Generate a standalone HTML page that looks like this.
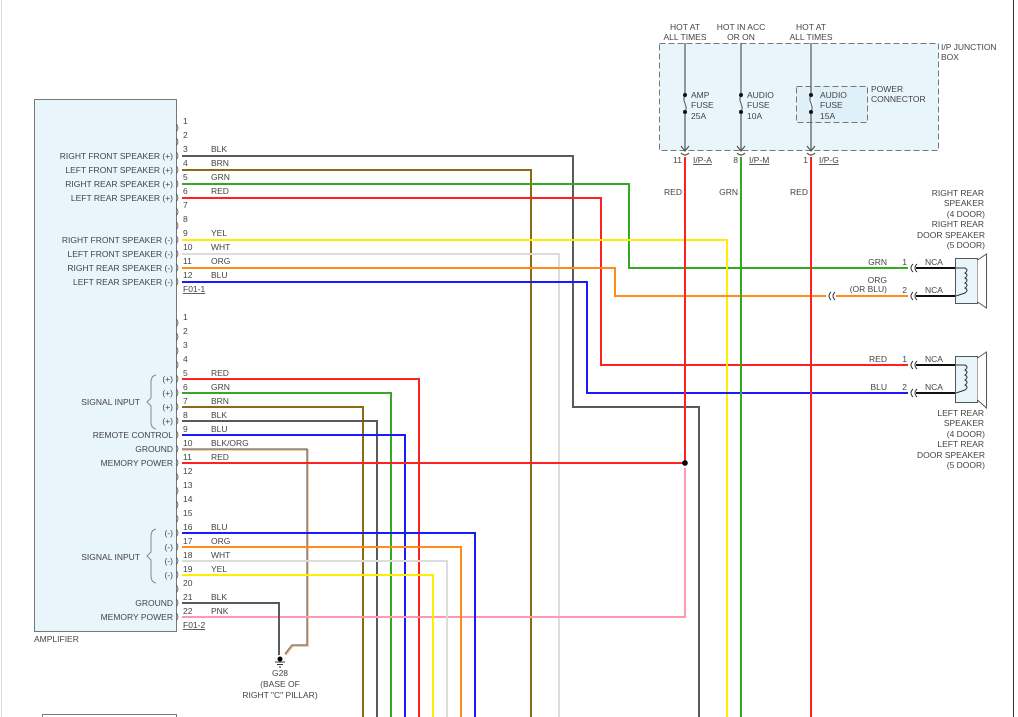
<!DOCTYPE html>
<html><head><meta charset="utf-8"><style>
body{margin:0;background:#fff}
svg{display:block}
text{font-family:"Liberation Sans",sans-serif;font-size:8.5px;fill:#444}
</style></head><body>
<svg width="1018" height="717" viewBox="0 0 1018 717" xmlns="http://www.w3.org/2000/svg">
<rect x="0" y="0" width="1018" height="717" fill="#fff"/>
<line x1="1.5" y1="0" x2="1.5" y2="717" stroke="#ddd" stroke-width="1"/>
<line x1="1013.5" y1="0" x2="1013.5" y2="717" stroke="#333" stroke-width="1"/>

<!-- amplifier -->
<rect x="34.5" y="99.5" width="142" height="532" fill="#e8f5fb" stroke="#777" stroke-width="1"/>
<text x="34" y="642">AMPLIFIER</text>
<rect x="42.5" y="714.5" width="134" height="10" fill="#fff" stroke="#777"/>

<!-- junction box -->
<rect x="659.5" y="43.5" width="279" height="107" fill="#e8f5fb" stroke="#777" stroke-dasharray="6,3"/>
<rect x="796.5" y="86.5" width="71" height="36" fill="#dff0f8" stroke="#777" stroke-dasharray="6,3"/>
<text x="941" y="50">I/P JUNCTION</text><text x="941" y="60">BOX</text>
<text x="871" y="92">POWER</text><text x="871" y="102">CONNECTOR</text>
<g text-anchor="middle">
<text x="685" y="30">HOT AT</text><text x="685" y="40">ALL TIMES</text>
<text x="741" y="30">HOT IN ACC</text><text x="741" y="40">OR ON</text>
<text x="811" y="30">HOT AT</text><text x="811" y="40">ALL TIMES</text>
</g>
<g stroke="#555" stroke-width="1.2" fill="none">
<line x1="685" y1="43" x2="685" y2="151"/><line x1="741" y1="43" x2="741" y2="151"/><line x1="811" y1="43" x2="811" y2="151"/>
<path d="M681,146 L685,151 L689,146 M681,153 Q685,157 689,153"/>
<path d="M737,146 L741,151 L745,146 M737,153 Q741,157 745,153"/>
<path d="M807,146 L811,151 L815,146 M807,153 Q811,157 815,153"/>
</g>
<g fill="#e8f5fb" stroke="none">
<rect x="683" y="97" width="5" height="13"/><rect x="739" y="97" width="5" height="13"/><rect x="809" y="97" width="5" height="13"/>
</g>
<g stroke="#555" stroke-width="1" fill="none">
<path d="M685,96 C681,100 689,107 685,111"/><path d="M741,96 C737,100 745,107 741,111"/><path d="M811,96 C807,100 815,107 811,111"/>
</g>
<g fill="#111"><circle cx="685" cy="95" r="2"/><circle cx="685" cy="112" r="2"/><circle cx="741" cy="95" r="2"/><circle cx="741" cy="112" r="2"/><circle cx="811" cy="95" r="2"/><circle cx="811" cy="112" r="2"/></g>
<text x="691" y="98">AMP</text><text x="691" y="108">FUSE</text><text x="691" y="119">25A</text>
<text x="747" y="98">AUDIO</text><text x="747" y="108">FUSE</text><text x="747" y="119">10A</text>
<text x="820" y="98">AUDIO</text><text x="820" y="108">FUSE</text><text x="820" y="119">15A</text>
<text x="682" y="163" text-anchor="end">11</text><text x="693" y="163" text-decoration="underline">I/P-A</text>
<text x="738" y="163" text-anchor="end">8</text><text x="749" y="163" text-decoration="underline">I/P-M</text>
<text x="808" y="163" text-anchor="end">1</text><text x="819" y="163" text-decoration="underline">I/P-G</text>
<text x="682" y="195" text-anchor="end">RED</text><text x="738" y="195" text-anchor="end">GRN</text><text x="808" y="195" text-anchor="end">RED</text>

<!-- wires -->
<g fill="none" stroke-width="2">
<polyline points="182,156 573,156 573,407 699,407 699,717" stroke="#5a5a5a"/>
<polyline points="182,170 531,170 531,717" stroke="#8a6a14"/>
<polyline points="182,184 629,184 629,268 908,268" stroke="#33aa22"/>
<polyline points="182,198 601,198 601,365 908,365" stroke="#ff2020"/>
<polyline points="182,240 727,240 727,717" stroke="#ffee00"/>
<polyline points="182,254 559,254 559,717" stroke="#dcdcdc"/>
<polyline points="182,268 615,268 615,296 908,296" stroke="#ff8c1a"/>
<polyline points="182,282 587,282 587,393 908,393" stroke="#1a1aff"/>
<polyline points="685,157 685,463" stroke="#ff2020"/>
<polyline points="741,157 741,717" stroke="#33aa22"/>
<polyline points="811,157 811,717" stroke="#ff2020"/>

<polyline points="182,379 419,379 419,717" stroke="#ff2020"/>
<polyline points="182,393 391,393 391,717" stroke="#33aa22"/>
<polyline points="182,407 363,407 363,717" stroke="#8a6a14"/>
<polyline points="182,421 377,421 377,717" stroke="#5a5a5a"/>
<polyline points="182,435 405,435 405,717" stroke="#1a1aff"/>
<polyline points="182,450 308,450 308,646 293,646 286,655" stroke="#f8b880" stroke-width="1.5"/>
<polyline points="182,449 307,449 307,645 292,645 285,654" stroke="#707070" stroke-width="1.3"/>
<polyline points="182,463 685,463" stroke="#ff2020"/>
<polyline points="182,617 685,617 685,468" stroke="#ff99b0"/>
<polyline points="182,533 475,533 475,717" stroke="#1a1aff"/>
<polyline points="182,547 461,547 461,717" stroke="#ff8c1a"/>
<polyline points="182,561 447,561 447,717" stroke="#dcdcdc"/>
<polyline points="182,575 433,575 433,717" stroke="#ffee00"/>
<polyline points="182,603 279,603 279,655" stroke="#5a5a5a"/>
</g>
<circle cx="685" cy="463" r="2.8" fill="#000"/>
<!-- ground -->
<circle cx="280" cy="659" r="2.5" fill="#000"/>
<g stroke="#333" stroke-width="1"><line x1="275" y1="662" x2="285" y2="662"/><line x1="277" y1="664.5" x2="283" y2="664.5"/><line x1="279" y1="667" x2="281" y2="667"/></g>
<g text-anchor="middle"><text x="280" y="676">G28</text><text x="280" y="687">(BASE OF</text><text x="280" y="698">RIGHT "C" PILLAR)</text></g>

<!-- connector pins -->
<g font-size="8">
<text x="176" y="130">)</text><text x="183" y="124">1</text>
<text x="176" y="144">)</text><text x="183" y="138">2</text>
<text x="176" y="158">)</text><text x="183" y="152">3</text>
<text x="176" y="172">)</text><text x="183" y="166">4</text>
<text x="176" y="186">)</text><text x="183" y="180">5</text>
<text x="176" y="200">)</text><text x="183" y="194">6</text>
<text x="176" y="214">)</text><text x="183" y="208">7</text>
<text x="176" y="228">)</text><text x="183" y="222">8</text>
<text x="176" y="242">)</text><text x="183" y="236">9</text>
<text x="176" y="256">)</text><text x="183" y="250">10</text>
<text x="176" y="270">)</text><text x="183" y="264">11</text>
<text x="176" y="284">)</text><text x="183" y="278">12</text>
</g>
<text x="183" y="292" text-decoration="underline">F01-1</text>
<g>
<text x="211" y="152">BLK</text><text x="211" y="166">BRN</text><text x="211" y="180">GRN</text><text x="211" y="194">RED</text>
<text x="211" y="236">YEL</text><text x="211" y="250">WHT</text><text x="211" y="264">ORG</text><text x="211" y="278">BLU</text>
</g>
<g text-anchor="end">
<text x="173" y="159">RIGHT FRONT SPEAKER (+)</text>
<text x="173" y="173">LEFT FRONT SPEAKER (+)</text>
<text x="173" y="187">RIGHT REAR SPEAKER (+)</text>
<text x="173" y="201">LEFT REAR SPEAKER (+)</text>
<text x="173" y="243">RIGHT FRONT SPEAKER (-)</text>
<text x="173" y="257">LEFT FRONT SPEAKER (-)</text>
<text x="173" y="271">RIGHT REAR SPEAKER (-)</text>
<text x="173" y="285">LEFT REAR SPEAKER (-)</text>
<text x="173" y="438">REMOTE CONTROL</text>
<text x="173" y="452">GROUND</text>
<text x="173" y="466">MEMORY POWER</text>
<text x="173" y="606">GROUND</text>
<text x="173" y="620">MEMORY POWER</text>
<text x="173" y="382">(+)</text><text x="173" y="396">(+)</text><text x="173" y="410">(+)</text><text x="173" y="424">(+)</text>
<text x="173" y="536">(-)</text><text x="173" y="550">(-)</text><text x="173" y="564">(-)</text><text x="173" y="578">(-)</text>
<text x="140" y="405">SIGNAL INPUT</text>
<text x="140" y="560">SIGNAL INPUT</text>
</g>
<g stroke="#888" fill="none" stroke-width="1">
<path d="M156,375 Q151,376 151,382 L151,398 L147,402 L151,406 L151,422 Q151,428 156,429"/>
<path d="M156,529 Q151,530 151,536 L151,552 L147,556 L151,560 L151,576 Q151,582 156,583"/>
</g>
<g font-size="8">
<text x="176" y="325">)</text><text x="183" y="320">1</text>
<text x="176" y="339">)</text><text x="183" y="334">2</text>
<text x="176" y="353">)</text><text x="183" y="348">3</text>
<text x="176" y="367">)</text><text x="183" y="362">4</text>
<text x="176" y="381">)</text><text x="183" y="376">5</text>
<text x="176" y="395">)</text><text x="183" y="390">6</text>
<text x="176" y="409">)</text><text x="183" y="404">7</text>
<text x="176" y="423">)</text><text x="183" y="418">8</text>
<text x="176" y="437">)</text><text x="183" y="432">9</text>
<text x="176" y="451">)</text><text x="183" y="446">10</text>
<text x="176" y="465">)</text><text x="183" y="460">11</text>
<text x="176" y="479">)</text><text x="183" y="474">12</text>
<text x="176" y="493">)</text><text x="183" y="488">13</text>
<text x="176" y="507">)</text><text x="183" y="502">14</text>
<text x="176" y="521">)</text><text x="183" y="516">15</text>
<text x="176" y="535">)</text><text x="183" y="530">16</text>
<text x="176" y="549">)</text><text x="183" y="544">17</text>
<text x="176" y="563">)</text><text x="183" y="558">18</text>
<text x="176" y="577">)</text><text x="183" y="572">19</text>
<text x="176" y="591">)</text><text x="183" y="586">20</text>
<text x="176" y="605">)</text><text x="183" y="600">21</text>
<text x="176" y="619">)</text><text x="183" y="614">22</text>
</g>
<text x="183" y="628" text-decoration="underline">F01-2</text>
<text x="211" y="376">RED</text><text x="211" y="390">GRN</text><text x="211" y="404">BRN</text><text x="211" y="418">BLK</text>
<text x="211" y="432">BLU</text><text x="211" y="446">BLK/ORG</text><text x="211" y="460">RED</text>
<text x="211" y="530">BLU</text><text x="211" y="544">ORG</text><text x="211" y="558">WHT</text><text x="211" y="572">YEL</text>
<text x="211" y="600">BLK</text><text x="211" y="614">PNK</text>

<!-- speakers -->
<rect x="826" y="293" width="10" height="6" fill="#fff"/>
<g stroke="#333" stroke-width="1" fill="none">
<path d="M913,264 Q909,268 913,272 M917,264 Q913,268 917,272"/>
<path d="M913,292 Q909,296 913,300 M917,292 Q913,296 917,300"/>
<path d="M831,292 Q827,296 831,300 M835,292 Q831,296 835,300"/>
<path d="M913,361 Q909,365 913,369 M917,361 Q913,365 917,369"/>
<path d="M913,389 Q909,393 913,397 M917,389 Q913,393 917,397"/>
</g>
<g stroke="#111" stroke-width="2">
<line x1="916" y1="268" x2="956" y2="268"/><line x1="916" y1="296" x2="956" y2="296"/>
<line x1="916" y1="365" x2="956" y2="365"/><line x1="916" y1="393" x2="956" y2="393"/>
</g>
<g stroke="#555" stroke-width="1" fill="#e8f5fb">
<rect x="955.5" y="258.5" width="22" height="45"/>
<path d="M977.5,260 L986.5,254 L986.5,308 L977.5,302" fill="#fff"/>
<rect x="955.5" y="356.5" width="22" height="46"/>
<path d="M977.5,358 L986.5,352 L986.5,408 L977.5,400" fill="#fff"/>
</g>
<g stroke="#333" fill="none" stroke-width="1">
<path d="M956,268 L965,268 q4,2 0,5 q4,2 0,5 q4,2 0,5 q4,2 0,5 q4,2 0,5 L956,296"/>
<path d="M956,365 L965,365 q4,2 0,5 q4,2 0,5 q4,2 0,5 q4,2 0,5 q4,2 0,5 L956,393"/>
</g>
<text x="887" y="265" text-anchor="end">GRN</text>
<text x="887" y="283" text-anchor="end">ORG</text><text x="887" y="292" text-anchor="end">(OR BLU)</text>
<text x="887" y="362" text-anchor="end">RED</text><text x="887" y="390" text-anchor="end">BLU</text>
<text x="907" y="265" text-anchor="end">1</text><text x="907" y="293" text-anchor="end">2</text>
<text x="907" y="362" text-anchor="end">1</text><text x="907" y="390" text-anchor="end">2</text>
<text x="925" y="265">NCA</text><text x="925" y="293">NCA</text><text x="925" y="362">NCA</text><text x="925" y="390">NCA</text>
<g text-anchor="end">
<text x="984" y="196">RIGHT REAR</text><text x="984" y="206">SPEAKER</text><text x="985" y="217">(4 DOOR)</text>
<text x="984" y="227">RIGHT REAR</text><text x="985" y="238">DOOR SPEAKER</text><text x="985" y="248">(5 DOOR)</text>
<text x="984" y="416">LEFT REAR</text><text x="984" y="426">SPEAKER</text><text x="985" y="437">(4 DOOR)</text>
<text x="984" y="447">LEFT REAR</text><text x="985" y="458">DOOR SPEAKER</text><text x="985" y="468">(5 DOOR)</text>
</g>
</svg>
</body></html>
